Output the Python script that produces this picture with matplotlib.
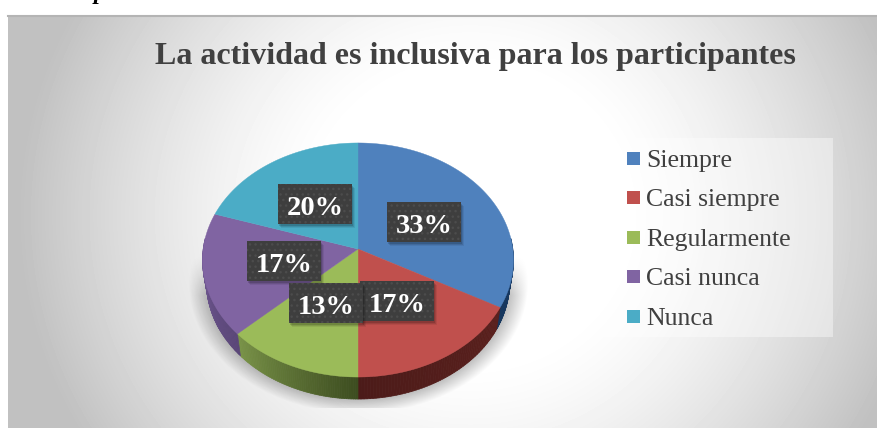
import numpy as np
import matplotlib
matplotlib.use('Agg')
import matplotlib.pyplot as plt
from matplotlib.collections import PolyCollection
from matplotlib.colors import to_rgb
from matplotlib.patches import Rectangle

categories = ['Siempre', 'Casi siempre', 'Regularmente', 'Casi nunca', 'Nunca']
values = [33, 17, 13, 17, 20]
title = 'La actividad es inclusiva para los participantes'

colors = ['#4f81bd', '#c0504d', '#9bbb59', '#8064a2', '#4bacc6']
# side wall colours, start and end of each slice going clockwise
side_colors = [('#17375e', '#17375e'), ('#5a201d', '#4c1b19'), ('#3d4d20', '#7a9448'),
               ('#5a4678', '#7a619c'), ('#2f7486', '#2f7486')]

W, H = 878, 428
cx, cy = 358, 249
rx, ry, persp = 154.8, 116, 0.094
depth = 22

fig = plt.figure(figsize=(W / 100, H / 100), dpi=100)
ax = fig.add_axes([0, 0, 1, 1])
ax.axis('off')


def project(theta):
    # clockwise angle from the top, tilted circle with a bit of perspective
    u, v = np.sin(theta), np.cos(theta)
    d = 1 + persp * v
    return cx + rx * u / d, cy - ry * v / d


# background
yy, xx = np.mgrid[15:H, 8:W]
dist = np.hypot(xx - 470, (yy - 215) * 1.05)
shade = 1 - 0.22 * np.clip((dist - 150) / 280, 0, 1.08) ** 1.4
ax.imshow(shade, extent=(8, W, H, 15), cmap='gray', vmin=0, vmax=1, aspect='auto', zorder=0)
ax.plot([8, W], [15.5, 15.5], color='#b4b4b4', lw=1.5, zorder=1)

# soft shadow under the pie
sy, sx = np.mgrid[255:408, 188:530]
d = np.hypot((sx - 358) / 170, (sy - 283) / 130)
alpha = np.clip((1 - d) / 0.12, 0, 1) * np.clip((sy - 255) / 40, 0, 1) * 0.27
rgba = np.zeros(sx.shape + (4,))
rgba[..., 3] = alpha
ax.imshow(rgba, extent=(188, 530, 408, 255), aspect='auto', zorder=2)
ax.set_xlim(0, W)
ax.set_ylim(H, 0)

# the caption above the chart is cut by the crop, only the tail of a p is left
ax.text(100, -1, 'p', family='Liberation Serif', style='italic', weight='bold',
        fontsize=17, color='black', ha='center', va='baseline', clip_on=True)

# side wall, then top face, both from the cumulative shares
edges = np.cumsum([0] + values) / sum(values) * 2 * np.pi
quads, quad_colors = [], []
for i in range(len(values)):
    a0, a1 = edges[i], edges[i + 1]
    lo, hi = max(a0, np.pi * 0.47), min(a1, np.pi * 1.53)
    if lo < hi:
        ts = np.linspace(lo, hi, 60)
        c0, c1 = np.array(to_rgb(side_colors[i][0])), np.array(to_rgb(side_colors[i][1]))
        for t0, t1 in zip(ts[:-1], ts[1:]):
            x0, y0 = project(t0)
            x1, y1 = project(t1)
            bx0 = cx + (x0 - cx) * 0.975
            bx1 = cx + (x1 - cx) * 0.975
            quads.append([(x0, y0), (x1, y1), (bx1, y1 + depth), (bx0, y0 + depth)])
            f = (t0 - a0) / (a1 - a0)
            quad_colors.append(c0 + (c1 - c0) * f)
ax.add_collection(PolyCollection(quads, facecolors=quad_colors, edgecolors=quad_colors,
                                 linewidths=0.5, zorder=3))

for i in range(len(values)):
    ts = np.linspace(edges[i], edges[i + 1], 120)
    px, py = project(ts)
    ax.fill(np.r_[cx, px], np.r_[cy, py], color=colors[i], lw=0.3, zorder=4)

# data labels, drawn in this order so 13% sits over the red 17%
label_boxes = {0: (387, 202), 4: (278, 184), 3: (247, 241), 1: (360, 281), 2: (289, 283)}
bw, bh = 74, 40
for z, (i, (bx, by)) in enumerate(label_boxes.items()):
    zb = 5 + z * 0.1
    for k, a in zip([4, 3, 2], [0.07, 0.1, 0.14]):
        ax.add_patch(Rectangle((bx + k - 1, by + k), bw, bh, color='black', alpha=a, lw=0, zorder=zb))
    ax.add_patch(Rectangle((bx, by), bw, bh, facecolor='#3e3e3e', edgecolor='#4c4c4c',
                           hatch='...', lw=0, zorder=zb + 0.01))
    ax.text(bx + bw / 2, by + bh / 2 + 1, f'{values[i]}%', family='Liberation Serif', weight='bold',
            fontsize=20.5, color='white', ha='center', va='center_baseline', zorder=zb + 0.02)

# legend
ax.add_patch(Rectangle((584, 138), 249, 199, color='white', alpha=0.4, lw=0, zorder=2))
for i, name in enumerate(categories):
    y = 158 + i * 39.6
    ax.add_patch(Rectangle((627, y - 6.5), 13, 13, color=colors[i], lw=0, zorder=3))
    ax.text(646, y, name, family='Liberation Serif', fontsize=18.5, color='#404040',
            ha='left', va='center_baseline', zorder=3)

ax.text(475.5, 53, title, family='Liberation Serif', weight='bold', fontsize=23, color='#404040',
        ha='center', va='center_baseline', zorder=3)

fig.savefig('out.png', dpi=100)
